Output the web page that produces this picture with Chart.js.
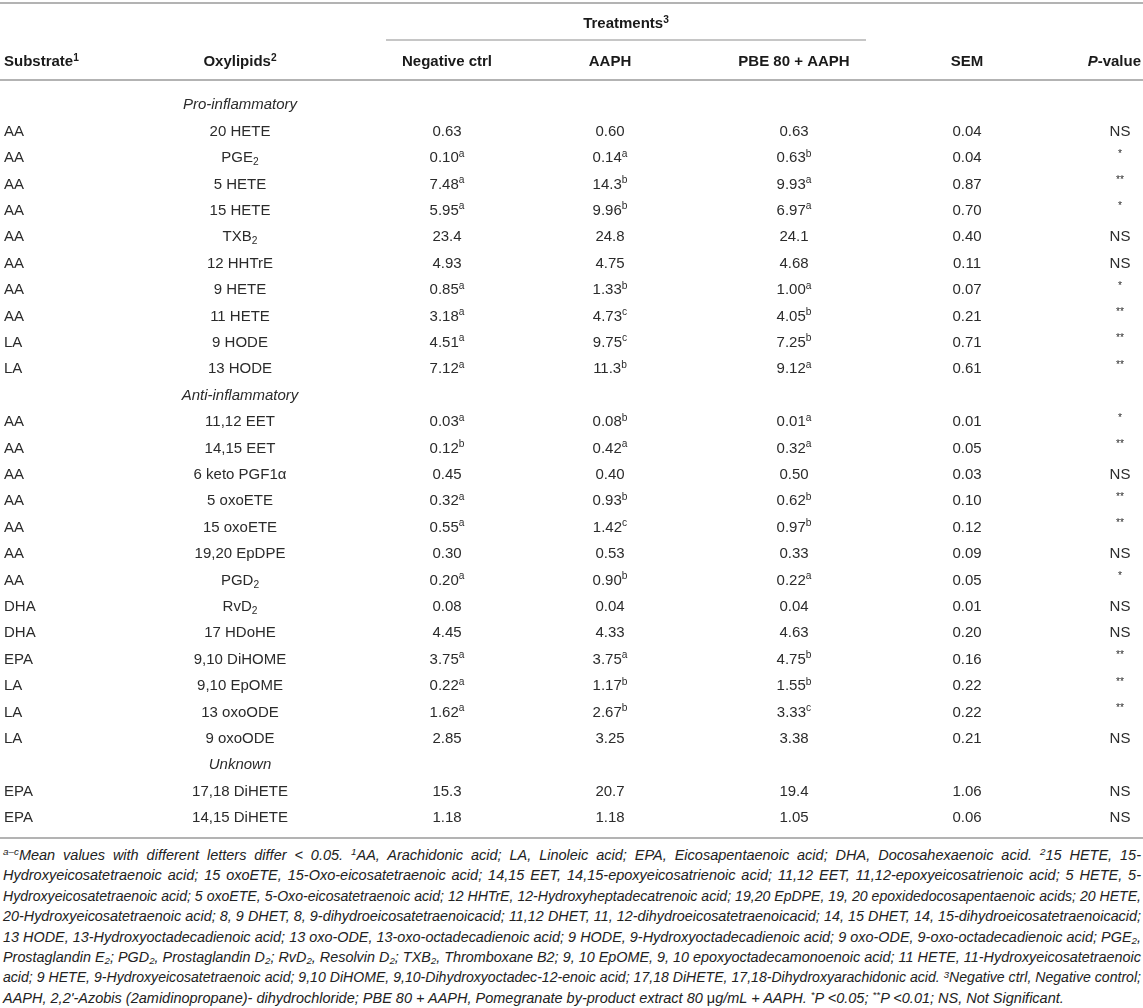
<!DOCTYPE html>
<html>
<head>
<meta charset="utf-8">
<script src="https://cdn.jsdelivr.net/npm/chart.js@4.4.1/dist/chart.umd.min.js"></script>
<style>
	html, body { margin: 0; padding: 0; background: #fff; }
	#wrap { position: relative; width: 1143px; height: 1008px; overflow: hidden; }
	#table { position: absolute; left: 0; top: 0; }
	#notes {
		position: absolute; left: 3px; top: 845px; width: 1138px;
		font-family: 'Liberation Sans', Arial, Helvetica, sans-serif;
		font-style: italic; font-size: 14.5px; line-height: 20.4px; color: #222;
	}
	#notes .ln { white-space: nowrap; display: block; }
	#notes sup, #notes sub { font-size: 0.68em; line-height: 0; position: relative; vertical-align: 0; }
	#notes sup { top: -0.5em; }
	#notes sub { top: 0.25em; }
	#notes .up { font-style: normal; }
</style>
</head>
<body>
<div id="wrap">
	<canvas id="table" width="1143" height="842"></canvas>
	<div id="notes">
		<span class="ln"><sup>a–c</sup>Mean values with different letters differ &lt; 0.05. <sup>1</sup>AA, Arachidonic acid; LA, Linoleic acid; EPA, Eicosapentaenoic acid; DHA, Docosahexaenoic acid. <sup>2</sup>15 HETE, 15-</span>
		<span class="ln">Hydroxyeicosatetraenoic acid; 15 oxoETE, 15-Oxo-eicosatetraenoic acid; 14,15 EET, 14,15-epoxyeicosatrienoic acid; 11,12 EET, 11,12-epoxyeicosatrienoic acid; 5 HETE, 5-</span>
		<span class="ln">Hydroxyeicosatetraenoic acid; 5 oxoETE, 5-Oxo-eicosatetraenoic acid; 12 HHTrE, 12-Hydroxyheptadecatrenoic acid; 19,20 EpDPE, 19, 20 epoxidedocosapentaenoic acids; 20 HETE,</span>
		<span class="ln">20-Hydroxyeicosatetraenoic acid; 8, 9 DHET, 8, 9-dihydroeicosatetraenoicacid; 11,12 DHET, 11, 12-dihydroeicosatetraenoicacid; 14, 15 DHET, 14, 15-dihydroeicosatetraenoicacid;</span>
		<span class="ln">13 HODE, 13-Hydroxyoctadecadienoic acid; 13 oxo-ODE, 13-oxo-octadecadienoic acid; 9 HODE, 9-Hydroxyoctadecadienoic acid; 9 oxo-ODE, 9-oxo-octadecadienoic acid; PGE<sub>2</sub>,</span>
		<span class="ln">Prostaglandin E<sub>2</sub>; PGD<sub>2</sub>, Prostaglandin D<sub>2</sub>; RvD<sub>2</sub>, Resolvin D<sub>2</sub>; TXB<sub>2</sub>, Thromboxane B2; 9, 10 EpOME, 9, 10 epoxyoctadecamonoenoic acid; 11 HETE, 11-Hydroxyeicosatetraenoic</span>
		<span class="ln">acid; 9 HETE, 9-Hydroxyeicosatetraenoic acid; 9,10 DiHOME, 9,10-Dihydroxyoctadec-12-enoic acid; 17,18 DiHETE, 17,18-Dihydroxyarachidonic acid. <sup>3</sup>Negative ctrl, Negative control;</span>
		<span class="ln last">AAPH, 2,2'-Azobis (2amidinopropane)- dihydrochloride; PBE 80 + AAPH, Pomegranate by-product extract 80 <span class="up">μ</span>g/mL + AAPH. <sup>*</sup>P &lt;0.05; <sup>**</sup>P &lt;0.01; NS, Not Significant.</span>
	</div>
</div>
<script>
// rows of the table, section labels included
const oxylipids = [
	'Pro-inflammatory',
	'20 HETE', 'PGE_2', '5 HETE', '15 HETE', 'TXB_2', '12 HHTrE', '9 HETE', '11 HETE', '9 HODE', '13 HODE',
	'Anti-inflammatory',
	'11,12 EET', '14,15 EET', '6 keto PGF1α', '5 oxoETE', '15 oxoETE', '19,20 EpDPE', 'PGD_2', 'RvD_2',
	'17 HDoHE', '9,10 DiHOME', '9,10 EpOME', '13 oxoODE', '9 oxoODE',
	'Unknown',
	'17,18 DiHETE', '14,15 DiHETE'
];
const sections = ['Pro-inflammatory', 'Anti-inflammatory', 'Unknown'];

const substrates = [
	'', 'AA', 'AA', 'AA', 'AA', 'AA', 'AA', 'AA', 'AA', 'LA', 'LA',
	'', 'AA', 'AA', 'AA', 'AA', 'AA', 'AA', 'AA', 'DHA', 'DHA', 'EPA', 'LA', 'LA', 'LA',
	'', 'EPA', 'EPA'
];

const negCtrl = [
	null, 0.63, 0.10, 7.48, 5.95, 23.4, 4.93, 0.85, 3.18, 4.51, 7.12,
	null, 0.03, 0.12, 0.45, 0.32, 0.55, 0.30, 0.20, 0.08, 4.45, 3.75, 0.22, 1.62, 2.85,
	null, 15.3, 1.18
];
const negCtrlSig = [
	'', '', 'a', 'a', 'a', '', '', 'a', 'a', 'a', 'a',
	'', 'a', 'b', '', 'a', 'a', '', 'a', '', '', 'a', 'a', 'a', '',
	'', '', ''
];

const aaph = [
	null, 0.60, 0.14, 14.3, 9.96, 24.8, 4.75, 1.33, 4.73, 9.75, 11.3,
	null, 0.08, 0.42, 0.40, 0.93, 1.42, 0.53, 0.90, 0.04, 4.33, 3.75, 1.17, 2.67, 3.25,
	null, 20.7, 1.18
];
const aaphSig = [
	'', '', 'a', 'b', 'b', '', '', 'b', 'c', 'c', 'b',
	'', 'b', 'a', '', 'b', 'c', '', 'b', '', '', 'a', 'b', 'b', '',
	'', '', ''
];

const pbeAaph = [
	null, 0.63, 0.63, 9.93, 6.97, 24.1, 4.68, 1.00, 4.05, 7.25, 9.12,
	null, 0.01, 0.32, 0.50, 0.62, 0.97, 0.33, 0.22, 0.04, 4.63, 4.75, 1.55, 3.33, 3.38,
	null, 19.4, 1.05
];
const pbeAaphSig = [
	'', '', 'b', 'a', 'a', '', '', 'a', 'b', 'b', 'a',
	'', 'a', 'a', '', 'b', 'b', '', 'a', '', '', 'b', 'b', 'c', '',
	'', '', ''
];

const sem = [
	null, 0.04, 0.04, 0.87, 0.70, 0.40, 0.11, 0.07, 0.21, 0.71, 0.61,
	null, 0.01, 0.05, 0.03, 0.10, 0.12, 0.09, 0.05, 0.01, 0.20, 0.16, 0.22, 0.22, 0.21,
	null, 1.06, 0.06
];

const pValues = [
	'', 'NS', '*', '**', '*', 'NS', 'NS', '*', '**', '**', '**',
	'', '*', '**', 'NS', '**', '**', 'NS', '*', 'NS', 'NS', '**', '**', '**', 'NS',
	'', 'NS', 'NS'
];

const headers = ['Substrate^1', 'Oxylipids^2', 'Negative ctrl', 'AAPH', 'PBE 80 + AAPH', 'SEM', 'P-value'];
const groupTitle = 'Treatments^3';

// layout (pixels)
const W = 1143, H = 842;
const ROW_H = 26.4, FIRST_ROW_Y = 104;
const HEADER_Y = 61, GROUP_Y = 23;
const colX = [4, 240, 447, 610, 794, 967, 1120];
const colAlign = ['left', 'center', 'center', 'center', 'center', 'center', 'center'];
const rules = [
	{ y: 3, x0: 0, x1: W, w: 2 },
	{ y: 40, x0: 386, x1: 866, w: 1.5 },
	{ y: 80, x0: 0, x1: W, w: 2 },
	{ y: 838, x0: 0, x1: W, w: 2 }
];
const FONT = "'Liberation Sans', Arial, Helvetica, sans-serif";
const FS = 15;

function fmt(v) {
	if (v === null) return '';
	return v >= 10 ? v.toFixed(1) : v.toFixed(2);
}

// 'PGE_2' -> subscript 2, '0.10^a' -> superscript a
function parse(str) {
	const parts = [];
	str.split(/(\^[^\s]+|_\w)/).forEach(tok => {
		if (!tok) return;
		if (tok[0] === '^') parts.push({ t: tok.slice(1), mode: 'sup' });
		else if (tok[0] === '_') parts.push({ t: tok.slice(1), mode: 'sub' });
		else parts.push({ t: tok, mode: 'n' });
	});
	return parts;
}

function partFont(p, style) {
	const size = p.mode === 'n' ? FS : FS * 0.68;
	const it = (p.italic || style.italic) ? 'italic ' : '';
	const wt = style.bold ? 'bold ' : '';
	return it + wt + size + 'px ' + FONT;
}

function drawRich(ctx, parts, x, y, align, style) {
	let total = 0;
	parts.forEach(p => {
		ctx.font = partFont(p, style);
		p.w = ctx.measureText(p.t).width;
		total += p.w;
	});
	let cx = x;
	if (align === 'center') cx = x - total / 2;
	else if (align === 'right') cx = x - total;
	const base = y + FS * 0.36;
	ctx.fillStyle = style.color;
	ctx.textAlign = 'left';
	ctx.textBaseline = 'alphabetic';
	parts.forEach(p => {
		ctx.font = partFont(p, style);
		let dy = 0;
		if (p.mode === 'sup') dy = -FS * 0.38;
		if (p.mode === 'sub') dy = FS * 0.2;
		ctx.fillText(p.t, cx, base + dy);
		cx += p.w;
	});
}

const cellTexts = [
	substrates,
	oxylipids,
	negCtrl.map((v, i) => fmt(v) + (negCtrlSig[i] ? '^' + negCtrlSig[i] : '')),
	aaph.map((v, i) => fmt(v) + (aaphSig[i] ? '^' + aaphSig[i] : '')),
	pbeAaph.map((v, i) => fmt(v) + (pbeAaphSig[i] ? '^' + pbeAaphSig[i] : '')),
	sem.map(fmt),
	pValues.map(p => p.indexOf('*') === 0 ? '^' + p : p)
];

const tablePlugin = {
	id: 'tableText',
	beforeDatasetsDraw(chart) {
		const ctx = chart.ctx;
		ctx.save();
		ctx.strokeStyle = '#b3b3b3';
		rules.forEach(r => {
			ctx.lineWidth = r.w;
			ctx.beginPath();
			ctx.moveTo(r.x0, r.y);
			ctx.lineTo(r.x1, r.y);
			ctx.stroke();
		});
		const hs = { bold: true, color: '#1a1a1a' };
		drawRich(ctx, parse(groupTitle), 626, GROUP_Y, 'center', hs);
		headers.forEach((h, c) => {
			let parts = parse(h);
			if (h === 'P-value') parts = [{ t: 'P', mode: 'n', italic: true }, { t: '-value', mode: 'n' }];
			const align = c === 6 ? 'right' : colAlign[c];
			const x = c === 6 ? 1141 : colX[c];
			drawRich(ctx, parts, x, HEADER_Y, align, hs);
		});
		ctx.restore();
	},
	afterDatasetsDraw(chart) {
		const ctx = chart.ctx;
		ctx.save();
		chart.data.datasets.forEach((ds, c) => {
			const meta = chart.getDatasetMeta(c);
			meta.data.forEach((pt, r) => {
				const txt = ds.cellText[r];
				if (!txt) return;
				const isSection = sections.includes(txt);
				const style = { italic: isSection, bold: false, color: '#2b2b2b' };
				drawRich(ctx, parse(txt), pt.x, pt.y, ds.align, style);
			});
		});
		ctx.restore();
	}
};

const yMin = -FIRST_ROW_Y / ROW_H;
const yMax = yMin + H / ROW_H;

new Chart(document.getElementById('table'), {
	type: 'scatter',
	data: {
		datasets: cellTexts.map((texts, c) => ({
			label: headers[c],
			data: oxylipids.map((_, r) => ({ x: colX[c], y: r })),
			cellText: texts,
			align: colAlign[c],
			pointRadius: 0,
			pointHoverRadius: 0
		}))
	},
	options: {
		responsive: false,
		animation: false,
		events: [],
		layout: { padding: 0 },
		plugins: { legend: { display: false }, tooltip: { enabled: false } },
		scales: {
			x: { type: 'linear', display: false, min: 0, max: W },
			y: { type: 'linear', display: false, reverse: true, min: yMin, max: yMax }
		}
	},
	plugins: [tablePlugin]
});

// fit and justify each footnote line to the full width
document.querySelectorAll('#notes .ln').forEach(el => {
	const target = 1138;
	el.style.display = 'inline-block';
	let w = el.getBoundingClientRect().width;
	if (w > target) {
		el.style.fontSize = (14.5 * target / w) + 'px';
		w = el.getBoundingClientRect().width;
	}
	el.style.display = 'block';
	if (!el.classList.contains('last')) {
		const spaces = (el.textContent.match(/ /g) || []).length;
		if (spaces) el.style.wordSpacing = ((target - w) / spaces) + 'px';
	}
});
</script>
</body>
</html>
